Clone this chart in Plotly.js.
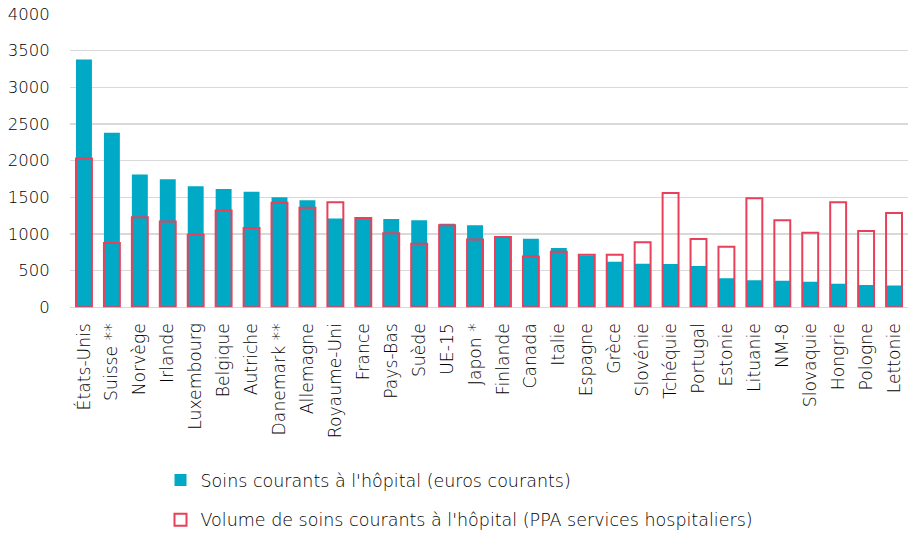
<!DOCTYPE html>
<html>
<head>
<meta charset="utf-8">
<script src="https://cdn.plot.ly/plotly-3.0.1.min.js"></script>
<style>html,body{margin:0;padding:0;background:#fff;}#chart{width:908px;height:538px;}</style>
</head>
<body>
<div id="chart"></div>
<script>
const categories = ["États-Unis","Suisse **","Norvège","Irlande","Luxembourg","Belgique","Autriche","Danemark **","Allemagne","Royaume-Uni","France","Pays-Bas","Suède","UE-15","Japon *","Finlande","Canada","Italie","Espagne","Grèce","Slovénie","Tchéquie","Portugal","Estonie","Lituanie","NM-8","Slovaquie","Hongrie","Pologne","Lettonie"];
const soinsEuros = [3380,2380,1810,1745,1650,1615,1575,1500,1460,1212,1205,1205,1187,1140,1118,950,935,810,705,620,595,590,562,395,368,362,350,322,305,298];
const volumePPA = [2030,878,1228,1172,988,1322,1083,1425,1358,1434,1217,1010,866,1118,924,960,694,757,716,716,888,1560,933,825,1488,1186,1018,1434,1040,1285];
const yTicks = [0,500,1000,1500,2000,2500,3000,3500,4000];

const font = "DejaVu Sans, sans-serif";
const textColor = "#000000";
const traces = [
  {type:"bar", x:categories, y:soinsEuros, name:"Soins courants à l'hôpital (euros courants)",
   marker:{color:"#00A9C6", line:{width:0}}, width:0.57, legendgroup:"a"},
  {type:"bar", x:categories, y:volumePPA, name:"Volume de soins courants à l'hôpital (PPA services hospitaliers)",
   marker:{color:"rgba(0,0,0,0)", line:{color:"#E8405A", width:2}}, width:0.57, legendgroup:"b"}
];
const layout = {
  width:908, height:538, paper_bgcolor:"#fff", plot_bgcolor:"#fff",
  margin:{l:70, r:0, t:14, b:0},
  barmode:"overlay", showlegend:true,
  font:{family:font, color:textColor, size:16, weight:300},
  xaxis:{type:"category", tickangle:-90, showgrid:false, showline:false, zeroline:false, automargin:false,
    ticks:"outside", ticklen:8, tickcolor:"rgba(0,0,0,0)", tickfont:{size:17.2, color:textColor, weight:300}},
  yaxis:{range:[0,4000], domain:[0.437,1], tickvals:yTicks, showgrid:true, gridcolor:"#d9d9d9", gridwidth:1.5,
    zeroline:true, zerolinecolor:"#d9d9d9", zerolinewidth:1.5, showline:false, automargin:false,
    ticks:"outside", ticklen:16, tickcolor:"rgba(0,0,0,0)", tickfont:{size:16.5, color:textColor, weight:300}},
  legend:{orientation:"v", x:0.108, xanchor:"left", y:0.14, yanchor:"top",
    traceorder:"grouped", tracegroupgap:14, font:{size:17.5, color:textColor, weight:300}, itemwidth:30}
};
Plotly.newPlot("chart", traces, layout, {displayModeBar:false, staticPlot:true});
</script>
</body>
</html>
